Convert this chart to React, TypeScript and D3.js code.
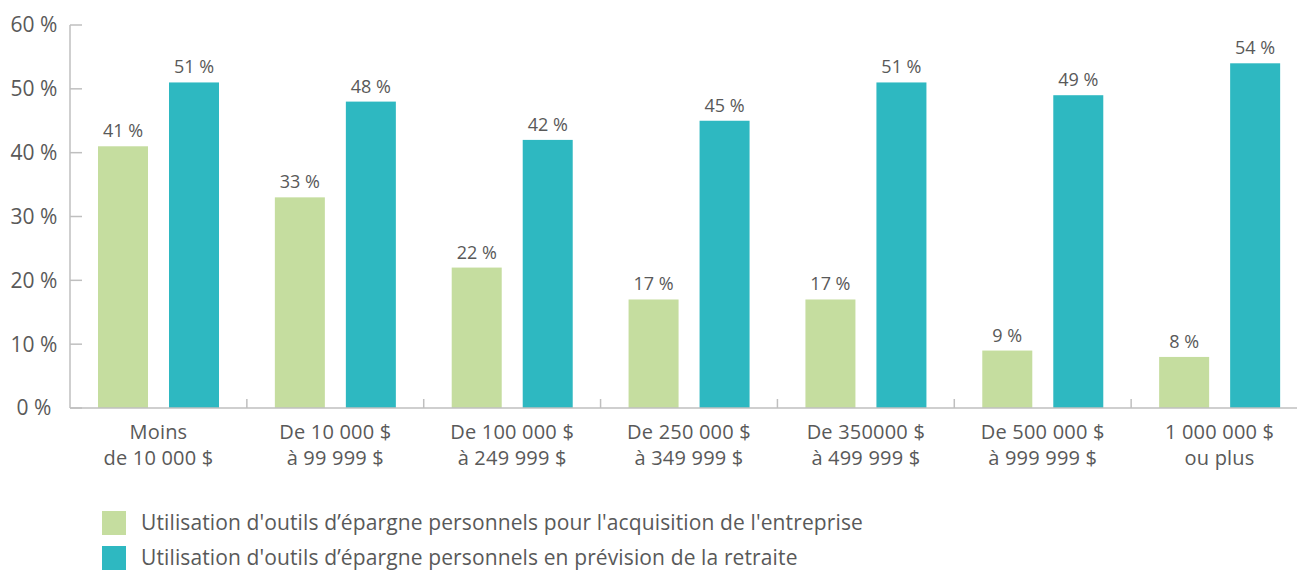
import React, { useEffect, useRef } from 'react';
import * as d3 from 'd3';

const categories = [
    ['Moins', 'de 10 000 $'],
    ['De 10 000 $', 'à 99 999 $'],
    ['De 100 000 $', 'à 249 999 $'],
    ['De 250 000 $', 'à 349 999 $'],
    ['De 350000 $', 'à 499 999 $'],
    ['De 500 000 $', 'à 999 999 $'],
    ['1 000 000 $', 'ou plus'],
];
const acquisition = [41, 33, 22, 17, 17, 9, 8];
const retraite = [51, 48, 42, 45, 51, 49, 54];
const seriesNames = [
    "Utilisation d'outils d’épargne personnels pour l'acquisition de l'entreprise",
    "Utilisation d'outils d’épargne personnels en prévision de la retraite",
];
const yTicks = [0, 10, 20, 30, 40, 50, 60];

const COLORS = ['#c5dd9f', '#2eb8c1'];
const TEXT = '#595959';
const AXIS = '#bfbfbf';
const FONT = "'Open Sans', sans-serif";

const App = () => {
    const ref = useRef(null);

    useEffect(() => {
        const W = 1297, H = 571;
        const left = 70, right = 1308, top = 25, bottom = 408;

        const svg = d3.select(ref.current)
            .attr('width', W)
            .attr('height', H)
            .style('font-family', FONT);
        svg.selectAll('*').remove();

        const x0 = d3.scaleBand()
            .domain(categories.map((_, i) => String(i)))
            .range([left, right])
            .padding(0);

        const x1 = d3.scaleBand()
            .domain(['0', '1'])
            .range([28, 149])
            .paddingInner(21 / 71)
            .paddingOuter(0);

        const y = d3.scaleLinear()
            .domain([0, 60])
            .range([bottom, top]);

        // y axis
        svg.append('line')
            .attr('x1', left).attr('x2', left)
            .attr('y1', top).attr('y2', bottom)
            .attr('stroke', AXIS).attr('stroke-width', 1.5);

        svg.selectAll('.ytick')
            .data(yTicks)
            .enter()
            .append('line')
            .attr('x1', left).attr('x2', left + 12)
            .attr('y1', d => y(d)).attr('y2', d => y(d))
            .attr('stroke', AXIS).attr('stroke-width', 1.5);

        svg.selectAll('.ylabel')
            .data(yTicks)
            .enter()
            .append('text')
            .attr('x', 34)
            .attr('y', d => y(d))
            .attr('dy', '0.35em')
            .attr('text-anchor', 'middle')
            .attr('fill', TEXT)
            .style('font-size', '21px')
            .text(d => `${d} %`);

        // bars
        const series = [acquisition, retraite];
        series.forEach((values, s) => {
            svg.selectAll(`.bar${s}`)
                .data(values)
                .enter()
                .append('rect')
                .attr('x', (d, i) => x0(String(i)) + x1(String(s)))
                .attr('y', d => y(d))
                .attr('width', x1.bandwidth())
                .attr('height', d => bottom - y(d))
                .attr('fill', COLORS[s]);

            svg.selectAll(`.val${s}`)
                .data(values)
                .enter()
                .append('text')
                .attr('x', (d, i) => x0(String(i)) + x1(String(s)) + x1.bandwidth() / 2)
                .attr('y', d => y(d) - 9)
                .attr('text-anchor', 'middle')
                .attr('fill', TEXT)
                .style('font-size', '18px')
                .text(d => `${d} %`);
        });

        // x axis
        svg.append('line')
            .attr('x1', left).attr('x2', right)
            .attr('y1', bottom).attr('y2', bottom)
            .attr('stroke', AXIS).attr('stroke-width', 1.5);

        svg.selectAll('.xtick')
            .data(categories.slice(1))
            .enter()
            .append('line')
            .attr('x1', (d, i) => x0(String(i + 1)))
            .attr('x2', (d, i) => x0(String(i + 1)))
            .attr('y1', bottom).attr('y2', bottom - 9)
            .attr('stroke', AXIS).attr('stroke-width', 1.5);

        // category labels, two lines each
        categories.forEach((lines, i) => {
            const cx = x0(String(i)) + x0.bandwidth() / 2;
            svg.selectAll(`.cat${i}`)
                .data(lines)
                .enter()
                .append('text')
                .attr('x', cx)
                .attr('y', (d, j) => 439 + j * 26)
                .attr('text-anchor', 'middle')
                .attr('fill', TEXT)
                .style('font-size', '20px')
                .style('letter-spacing', '0.2px')
                .text(d => d);
        });

        // legend
        const legend = svg.selectAll('.legend')
            .data(seriesNames)
            .enter()
            .append('g')
            .attr('transform', (d, i) => `translate(102, ${511 + i * 35})`);
        legend.append('rect')
            .attr('width', 24).attr('height', 24)
            .attr('fill', (d, i) => COLORS[i]);
        legend.append('text')
            .attr('x', 39).attr('y', 12)
            .attr('dy', '0.35em')
            .attr('fill', TEXT)
            .style('font-size', '21px')
            .style('letter-spacing', '0.12px')
            .text(d => d);
    }, []);

    return (
        <svg ref={ref} style={{ position: 'absolute', left: 0, top: 0 }}></svg>
    );
};

export default App;
